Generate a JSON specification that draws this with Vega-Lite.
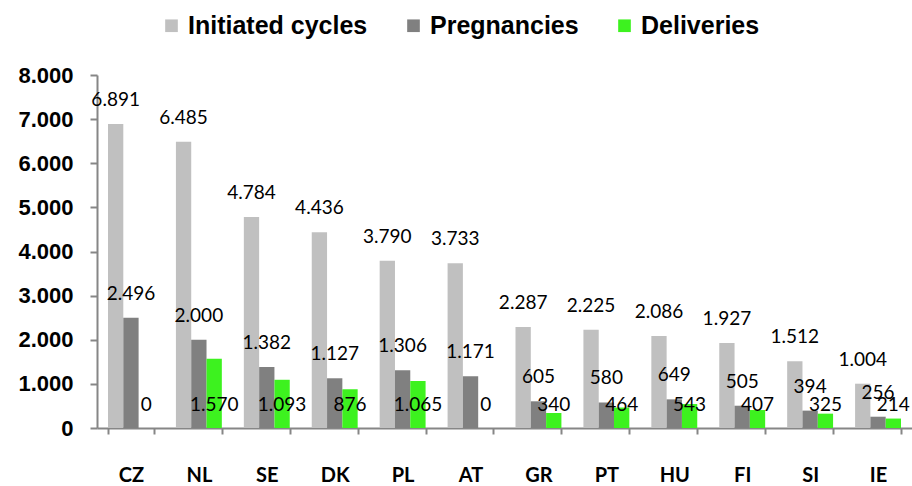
{
  "$schema": "https://vega.github.io/schema/vega-lite/v6.json",
  "width": 815,
  "height": 353,
  "autosize": {"type": "none"},
  "padding": {"left": 97, "top": 75, "right": 0, "bottom": 58},
  "background": "white",
  "config": {
    "locale": {"number": {"decimal": ",", "thousands": ".", "grouping": [3], "currency": ["", " €"]}},
    "view": {"stroke": null}
  },
  "data": {
    "values": [
      {"country": "CZ", "series": "Initiated cycles", "value": 6891},
      {"country": "CZ", "series": "Pregnancies", "value": 2496},
      {"country": "CZ", "series": "Deliveries", "value": 0},
      {"country": "NL", "series": "Initiated cycles", "value": 6485},
      {"country": "NL", "series": "Pregnancies", "value": 2000},
      {"country": "NL", "series": "Deliveries", "value": 1570},
      {"country": "SE", "series": "Initiated cycles", "value": 4784},
      {"country": "SE", "series": "Pregnancies", "value": 1382},
      {"country": "SE", "series": "Deliveries", "value": 1093},
      {"country": "DK", "series": "Initiated cycles", "value": 4436},
      {"country": "DK", "series": "Pregnancies", "value": 1127},
      {"country": "DK", "series": "Deliveries", "value": 876},
      {"country": "PL", "series": "Initiated cycles", "value": 3790},
      {"country": "PL", "series": "Pregnancies", "value": 1306},
      {"country": "PL", "series": "Deliveries", "value": 1065},
      {"country": "AT", "series": "Initiated cycles", "value": 3733},
      {"country": "AT", "series": "Pregnancies", "value": 1171},
      {"country": "AT", "series": "Deliveries", "value": 0},
      {"country": "GR", "series": "Initiated cycles", "value": 2287},
      {"country": "GR", "series": "Pregnancies", "value": 605},
      {"country": "GR", "series": "Deliveries", "value": 340},
      {"country": "PT", "series": "Initiated cycles", "value": 2225},
      {"country": "PT", "series": "Pregnancies", "value": 580},
      {"country": "PT", "series": "Deliveries", "value": 464},
      {"country": "HU", "series": "Initiated cycles", "value": 2086},
      {"country": "HU", "series": "Pregnancies", "value": 649},
      {"country": "HU", "series": "Deliveries", "value": 543},
      {"country": "FI", "series": "Initiated cycles", "value": 1927},
      {"country": "FI", "series": "Pregnancies", "value": 505},
      {"country": "FI", "series": "Deliveries", "value": 407},
      {"country": "SI", "series": "Initiated cycles", "value": 1512},
      {"country": "SI", "series": "Pregnancies", "value": 394},
      {"country": "SI", "series": "Deliveries", "value": 325},
      {"country": "IE", "series": "Initiated cycles", "value": 1004},
      {"country": "IE", "series": "Pregnancies", "value": 256},
      {"country": "IE", "series": "Deliveries", "value": 214}
    ]
  },
  "encoding": {
    "x": {
      "field": "country",
      "type": "nominal",
      "sort": null,
      "scale": {"paddingInner": 0.324, "paddingOuter": 0.162},
      "axis": {
        "title": null,
        "labelAngle": 0,
        "tickBand": "extent",
        "tickSize": 6,
        "labelPadding": 31,
        "labelFont": "Lato",
        "labelFontWeight": "bold",
        "labelFontSize": 20,
        "labelColor": "black",
        "domainColor": "#868686",
        "tickColor": "#868686",
        "domainWidth": 2,
        "tickWidth": 2
      }
    },
    "xOffset": {
      "field": "series",
      "type": "nominal",
      "scale": {"domain": ["Initiated cycles", "Pregnancies", "Deliveries"], "paddingInner": 0, "paddingOuter": 0}
    }
  },
  "layer": [
    {
      "mark": {"type": "bar"},
      "encoding": {
        "y": {
          "field": "value",
          "type": "quantitative",
          "scale": {"domain": [0, 8000], "nice": false},
          "axis": {
            "title": null,
            "values": [0, 1000, 2000, 3000, 4000, 5000, 6000, 7000, 8000],
            "format": ",d",
            "grid": false,
            "labelFont": "Liberation Sans",
            "labelFontWeight": "bold",
            "labelFontSize": 22,
            "labelColor": "black",
            "labelPadding": 17,
            "tickSize": 7,
            "tickWidth": 2,
            "domainWidth": 2,
            "domainColor": "#868686",
            "tickColor": "#868686"
          }
        },
        "color": {
          "field": "series",
          "type": "nominal",
          "scale": {"domain": ["Initiated cycles", "Pregnancies", "Deliveries"], "range": ["#C0C0C0", "#808080", "#3DF21F"]},
          "legend": {
            "title": null,
            "orient": "none",
            "direction": "horizontal",
            "legendX": 62,
            "legendY": -62,
            "symbolType": "square",
            "symbolSize": 160,
            "symbolStrokeWidth": 0,
            "labelFont": "Liberation Sans",
            "labelFontWeight": "bold",
            "labelFontSize": 25,
            "labelColor": "black",
            "labelLimit": 0,
            "labelOffset": 4,
            "columnPadding": 33
          }
        }
      }
    },
    {
      "transform": [{"filter": "datum.series !== 'Deliveries'"}],
      "mark": {"type": "text", "dy": -24, "font": "Lato", "fontSize": 19, "color": "black", "baseline": "middle"},
      "encoding": {
        "y": {"field": "value", "type": "quantitative"},
        "text": {"field": "value", "type": "quantitative", "format": ",d"}
      }
    },
    {
      "transform": [{"filter": "datum.series === 'Deliveries'"}],
      "mark": {"type": "text", "dy": -23, "font": "Lato", "fontSize": 19, "color": "black", "baseline": "middle"},
      "encoding": {
        "y": {"datum": 0, "type": "quantitative"},
        "text": {"field": "value", "type": "quantitative", "format": ",d"}
      }
    }
  ]
}
